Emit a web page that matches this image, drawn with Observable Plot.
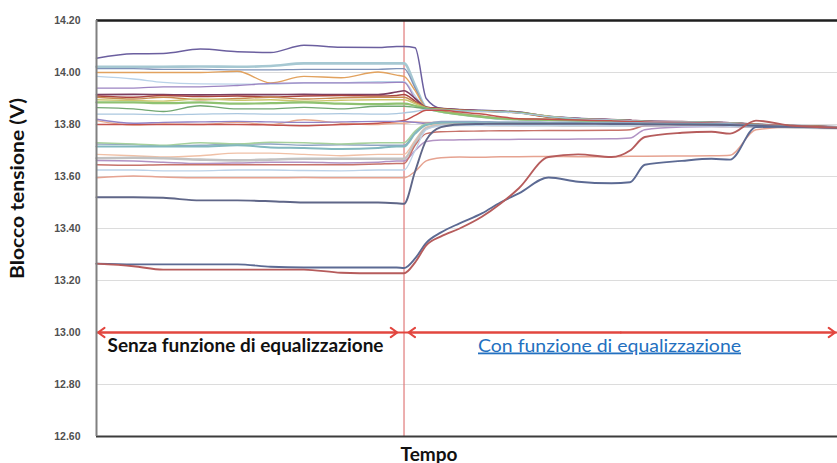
<!DOCTYPE html>
<html><head><meta charset="utf-8">
<script src="https://cdn.jsdelivr.net/npm/d3@7"></script>
<script src="https://cdn.jsdelivr.net/npm/@observablehq/plot@0.6"></script>
<style>
html,body{margin:0;padding:0;background:#fff;}
#chart{width:837px;height:463px;overflow:hidden;}
</style></head>
<body><div id="chart"></div>
<script>
// time axis (arbitrary units, equalization switched on at switchT)
const tempo = [0,5,9,14,19,23.5,28,33,38,40.5,41.5,43,44.5,46.5,49,52,54.5,57,61,65,69.5,72,74,79,83,85.5,89,94,100];
const switchT = 41.5;
const yTicks = [12.6,12.8,13.0,13.2,13.4,13.6,13.8,14.0,14.2];

// block voltages (V)
const b01 = [14.055,14.072,14.073,14.090,14.080,14.077,14.105,14.097,14.096,14.100, 14.100,14.095,13.900, 13.862,13.858,13.855,13.852,13.848,13.832,13.824,13.818,13.815,13.812,13.810,13.808,13.806,13.800,13.795,13.790];
const b02 = [14.022,14.022,14.022,14.023,14.022,14.025,14.035,14.035,14.035,14.035, 14.035,13.950,13.865, 13.850,13.840,13.830,13.822,13.820,13.818,13.815,13.812,13.810,13.810,13.808,13.806,13.804,13.800,13.795,13.790];
const b03 = [14.015,14.015,14.012,14.012,14.010,14.010,14.012,14.012,14.012,14.015, 14.015,13.940,13.866, 13.862,13.856,13.852,13.850,13.846,13.830,13.822,13.818,13.816,13.812,13.810,13.808,13.806,13.800,13.795,13.790];
const b04 = [14.000,14.000,14.000,14.000,14.005,13.960,13.985,13.980,14.002,13.990, 13.985,13.930,13.865, 13.858,13.852,13.850,13.848,13.844,13.828,13.820,13.816,13.814,13.811,13.809,13.807,13.805,13.800,13.794,13.790];
const b05 = [13.985,13.975,13.962,13.956,13.955,13.955,13.960,13.960,13.965,13.965, 13.965,13.910,13.862, 13.848,13.838,13.828,13.822,13.819,13.817,13.814,13.812,13.810,13.809,13.807,13.805,13.803,13.799,13.794,13.789];
const b06 = [13.940,13.940,13.945,13.945,13.950,13.958,13.960,13.960,13.960,13.962, 13.962,13.900,13.864, 13.860,13.855,13.853,13.850,13.846,13.832,13.823,13.819,13.816,13.813,13.811,13.809,13.807,13.801,13.795,13.790];
const b07 = [13.915,13.916,13.915,13.914,13.915,13.915,13.916,13.915,13.915,13.925, 13.930,13.900,13.866, 13.862,13.857,13.853,13.851,13.847,13.831,13.823,13.819,13.816,13.813,13.811,13.809,13.807,13.801,13.796,13.791];
const b08 = [13.910,13.905,13.912,13.908,13.910,13.906,13.910,13.912,13.910,13.912, 13.915,13.890,13.866, 13.861,13.856,13.853,13.850,13.845,13.829,13.821,13.817,13.815,13.812,13.810,13.808,13.806,13.800,13.795,13.790];
const b09 = [13.905,13.898,13.905,13.895,13.900,13.905,13.898,13.903,13.905,13.905, 13.905,13.885,13.865, 13.852,13.842,13.832,13.824,13.821,13.819,13.816,13.813,13.811,13.810,13.808,13.806,13.804,13.800,13.795,13.790];
const b10 = [13.895,13.892,13.890,13.898,13.893,13.895,13.890,13.893,13.895,13.895, 13.895,13.880,13.864, 13.860,13.855,13.852,13.850,13.846,13.832,13.822,13.818,13.815,13.812,13.810,13.808,13.806,13.800,13.795,13.790];
const b11 = [13.885,13.885,13.882,13.885,13.880,13.882,13.885,13.880,13.878,13.880, 13.880,13.872,13.862, 13.849,13.839,13.829,13.823,13.820,13.818,13.815,13.812,13.810,13.809,13.807,13.805,13.803,13.799,13.794,13.789];
const b12 = [13.865,13.860,13.850,13.872,13.860,13.860,13.866,13.860,13.870,13.870, 13.870,13.866,13.862, 13.858,13.853,13.851,13.849,13.845,13.830,13.821,13.817,13.815,13.812,13.810,13.808,13.806,13.800,13.795,13.790];
const b13 = [13.840,13.840,13.838,13.840,13.842,13.840,13.840,13.842,13.840,13.842, 13.845,13.850,13.858, 13.856,13.852,13.850,13.848,13.844,13.830,13.822,13.818,13.815,13.812,13.810,13.808,13.806,13.800,13.795,13.790];
const b14 = [13.815,13.798,13.802,13.800,13.808,13.800,13.818,13.805,13.800,13.805, 13.805,13.810,13.808, 13.808,13.808,13.807,13.807,13.806,13.806,13.805,13.805,13.805,13.804,13.803,13.802,13.800,13.796,13.792,13.788];
const b15 = [13.800,13.800,13.800,13.800,13.800,13.798,13.795,13.800,13.805,13.812, 13.815,13.835,13.855, 13.855,13.848,13.840,13.830,13.822,13.820,13.817,13.814,13.812,13.810,13.808,13.806,13.804,13.800,13.795,13.790];
const b16 = [13.820,13.805,13.808,13.810,13.812,13.810,13.808,13.810,13.812,13.812, 13.812,13.808,13.805, 13.806,13.806,13.805,13.805,13.804,13.804,13.803,13.803,13.803,13.802,13.801,13.800,13.799,13.795,13.791,13.788];
const b17 = [13.725,13.723,13.718,13.720,13.725,13.725,13.720,13.722,13.720,13.720, 13.720,13.770,13.800, 13.812,13.812,13.811,13.810,13.810,13.809,13.808,13.808,13.807,13.806,13.805,13.804,13.803,13.798,13.793,13.789];
const b18 = [13.730,13.725,13.720,13.730,13.725,13.732,13.730,13.725,13.730,13.730, 13.730,13.775,13.802, 13.804,13.804,13.803,13.803,13.802,13.802,13.801,13.801,13.801,13.800,13.800,13.799,13.798,13.795,13.791,13.787];
const b19 = [13.715,13.715,13.715,13.715,13.720,13.712,13.710,13.706,13.710,13.715, 13.715,13.765,13.798, 13.806,13.806,13.805,13.805,13.805,13.804,13.804,13.803,13.803,13.802,13.801,13.800,13.799,13.796,13.792,13.788];
const b20 = [13.685,13.680,13.675,13.680,13.690,13.690,13.685,13.680,13.685,13.685, 13.685,13.740,13.790, 13.800,13.801,13.801,13.801,13.801,13.800,13.800,13.800,13.799,13.799,13.798,13.797,13.796,13.794,13.791,13.787];
const b21 = [13.670,13.672,13.670,13.665,13.662,13.665,13.668,13.668,13.668,13.668, 13.668,13.730,13.785, 13.797,13.798,13.798,13.797,13.797,13.797,13.796,13.796,13.796,13.795,13.795,13.794,13.793,13.792,13.789,13.786];
const b22 = [13.662,13.660,13.655,13.650,13.652,13.655,13.655,13.652,13.655,13.660, 13.660,13.700,13.735, 13.740,13.741,13.742,13.742,13.743,13.743,13.744,13.745,13.748,13.780,13.790,13.792,13.792,13.792,13.790,13.787];
const b23 = [13.645,13.643,13.645,13.645,13.645,13.645,13.645,13.645,13.648,13.650, 13.650,13.720,13.765, 13.772,13.774,13.775,13.776,13.776,13.777,13.777,13.778,13.780,13.795,13.797,13.797,13.796,13.795,13.791,13.787];
const b24 = [13.625,13.625,13.622,13.622,13.625,13.625,13.623,13.622,13.625,13.625, 13.625,13.700,13.780, 13.795,13.797,13.797,13.797,13.796,13.796,13.796,13.795,13.795,13.795,13.794,13.794,13.793,13.792,13.789,13.786];
const b25 = [13.595,13.602,13.598,13.595,13.595,13.595,13.596,13.595,13.595,13.595, 13.595,13.620,13.660, 13.672,13.675,13.674,13.676,13.676,13.677,13.676,13.676,13.678,13.678,13.679,13.680,13.682,13.780,13.790,13.787];
const b26 = [13.520,13.520,13.518,13.508,13.508,13.505,13.500,13.500,13.500,13.497, 13.495,13.620,13.740, 13.790,13.800,13.802,13.803,13.803,13.803,13.803,13.802,13.802,13.801,13.800,13.799,13.798,13.795,13.791,13.787];
const b27 = [13.265,13.262,13.262,13.262,13.262,13.253,13.250,13.250,13.250,13.250, 13.248,13.285,13.345, 13.385,13.420,13.458,13.500,13.535,13.596,13.580,13.574,13.578,13.645,13.660,13.668,13.665,13.790,13.792,13.787];
const b28 = [13.265,13.255,13.242,13.242,13.242,13.242,13.242,13.230,13.228,13.228, 13.228,13.270,13.335, 13.370,13.400,13.445,13.495,13.555,13.675,13.685,13.675,13.700,13.752,13.768,13.772,13.765,13.815,13.795,13.788];

const serie = [b01,b02,b03,b04,b05,b06,b07,b08,b09,b10,b11,b12,b13,b14,b15,b16,b17,b18,b19,b20,b21,b22,b23,b24,b25,b26,b27,b28];
const nomi = serie.map((_, i) => "Blocco " + (i + 1));

// styles
const colori = ["#6b5f9f","#a6c8d2","#7f92b8","#e2a25e","#b9d2e8","#9c84c2","#7c3d5f","#ab4540","#c78c52","#cbc56c",
                "#8fc271","#72a872","#abc7df","#e8ab8e","#c3524e","#9283c6","#90a5c4","#a6d09c","#82b8bf","#f0c0a6",
                "#c2c2c2","#b293c4","#c7726a","#bcd2e8","#e6a391","#5f6688","#5c6a93","#b65c5c"];
const spessori = [1.5,2.6,1.3,1.4,1.3,1.3,1.6,1.5,1.4,1.4, 2.2,1.4,1.3,1.4,1.5,1.4,1.4,1.6,2.0,1.4, 2.6,1.5,1.4,1.3,1.5,1.9,1.9,1.9];

const testoSenza = "Senza funzione di equalizzazione";
const testoCon = "Con funzione di equalizzazione";
const titoloY = "Blocco tensione (V)";
const titoloX = "Tempo";

const tMin = tempo[0], tMax = tempo[tempo.length - 1];
const frecce = [
  {a: (tMin + switchT) / 2, b: tMin + 0.2},
  {a: (tMin + switchT) / 2, b: switchT - 0.9},
  {a: (switchT + tMax) / 2, b: switchT + 0.6},
  {a: (switchT + tMax) / 2, b: tMax - 0.3}
];

const lineMarks = serie.map((vals, i) =>
  Plot.line(tempo.map((t, j) => ({t, v: vals[j], s: nomi[i]})),
    {x: "t", y: "v", stroke: colori[i], strokeWidth: spessori[i], curve: "monotone-x", strokeLinejoin: "round"}));

const chart = Plot.plot({
  width: 837, height: 463,
  marginLeft: 96, marginRight: 0, marginTop: 20, marginBottom: 27,
  x: {domain: [tMin, tMax], axis: null},
  y: {domain: [12.6, 14.2], ticks: yTicks, tickFormat: d3.format(".2f"), tickSize: 0, tickPadding: 16, label: null},
  style: {fontFamily: "'Liberation Sans', Arial, sans-serif", fontSize: "10.5px", fontWeight: "bold", color: "#505050", background: "#fff", overflow: "visible"},
  marks: [
    Plot.ruleY(yTicks, {stroke: "#dcdcdc", strokeWidth: 1}),
    Plot.ruleX([switchT], {stroke: "#e07a7a", strokeWidth: 1.2}),
    ...lineMarks,
    Plot.ruleY([13.0], {x1: tMin, x2: tMax, stroke: "#e2463f", strokeWidth: 2}),
    Plot.arrow(frecce, {x1: "a", x2: "b", y1: 13.0, y2: 13.0, stroke: "#e2463f", strokeWidth: 2, headLength: 6, headAngle: 70}),
    Plot.ruleY([14.2], {stroke: "#1e1e1e", strokeWidth: 2.5}),
    Plot.ruleY([12.6], {stroke: "#3c3c3c", strokeWidth: 2}),
    Plot.ruleX([tMin], {stroke: "#808080", strokeWidth: 2}),
    Plot.text([testoSenza], {x: tMin, y: 13.0, dx: 11, dy: 19, text: d => d, textAnchor: "start", lineAnchor: "bottom",
      fontFamily: "Lato, 'Open Sans', sans-serif", fontSize: 18, fontWeight: "bold", fill: "#111", className: "t-senza"}),
    Plot.text([testoCon], {x: switchT, y: 13.0, dx: 74, dy: 19, text: d => d, textAnchor: "start", lineAnchor: "bottom",
      fontFamily: "Lato, 'Open Sans', sans-serif", fontSize: 18, fontWeight: "normal", fill: "#2370c0", className: "t-con"}),
    Plot.text([titoloX], {x: switchT, frameAnchor: "bottom", dx: 25, dy: 24, text: d => d, textAnchor: "middle", lineAnchor: "bottom",
      fontFamily: "Lato, 'Open Sans', sans-serif", fontSize: 18, fontWeight: "bold", fill: "#111", className: "t-x"}),
    Plot.text([titoloY], {frameAnchor: "left", dx: -78, dy: -40, rotate: -90, text: d => d, textAnchor: "middle", lineAnchor: "middle",
      fontFamily: "Lato, 'Open Sans', sans-serif", fontSize: 18, fontWeight: "bold", fill: "#111", className: "t-y"})
  ]
});
document.getElementById("chart").appendChild(chart);

function fit(cls, len) {
  chart.querySelectorAll("." + cls + " text").forEach(el => {
    el.setAttribute("textLength", len);
    el.setAttribute("lengthAdjust", "spacingAndGlyphs");
  });
}
fit("t-senza", 276);
fit("t-con", 263);
fit("t-x", 57);
fit("t-y", 181);
chart.querySelectorAll(".t-con text").forEach(el => el.setAttribute("text-decoration", "underline"));
</script>
</body></html>
